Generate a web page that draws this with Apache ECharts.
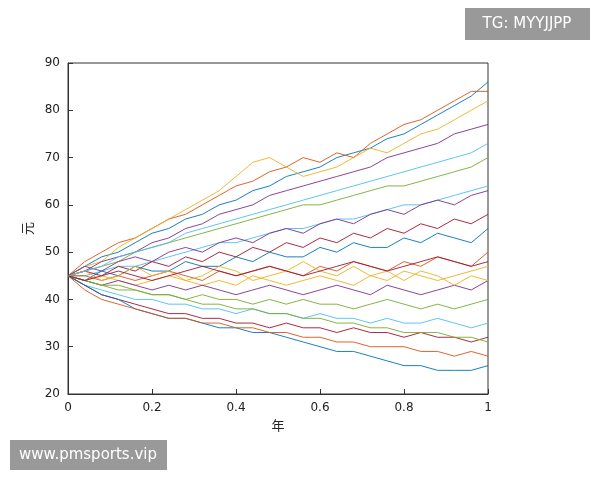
<!DOCTYPE html>
<html><head><meta charset="utf-8">
<script src="https://cdn.jsdelivr.net/npm/echarts@6/dist/echarts.min.js"></script>
<style>html,body{margin:0;background:#fff}#c{width:600px;height:480px}</style>
</head><body><div id="c"></div>
<script>
// time in years
const years = [0,0.04,0.08,0.12,0.16,0.2,0.24,0.28,0.32,0.36,0.4,0.44,0.48,0.52,0.56,0.6,0.64,0.68,0.72,0.76,0.8,0.84,0.88,0.92,0.96,1];
// price paths (元)
const paths = [
  [45,47,49,50,52,54,55,57,58,60,61,63,64,66,67,68,70,71,72,74,75,77,79,81,83,86],
  [45,48,50,52,53,55,57,58,60,62,64,65,67,68,70,69,71,70,73,75,77,78,80,82,84,84],
  [45,47,48,51,53,55,57,59,61,63,66,69,70,68,66,67,68,70,72,71,73,75,76,78,80,82],
  [45,46,48,49,50,52,53,55,56,58,59,60,62,63,64,65,66,67,68,70,71,72,73,75,76,77],
  [45,46,47,48,50,51,52,53,54,55,56,57,58,59,60,60,61,62,63,64,64,65,66,67,68,70],
  [45,45,46,47,47,48,49,50,51,52,52,53,54,55,55,56,57,57,58,59,60,60,61,62,63,64],
  [45,46,45,47,46,48,47,49,48,50,49,51,50,52,51,53,52,54,53,55,54,56,55,57,56,58],
  [45,44,46,45,47,46,46,48,47,47,49,48,50,49,49,51,50,52,51,51,53,52,54,53,52,55],
  [45,45,44,45,44,45,46,45,44,46,45,46,47,46,45,47,46,48,47,46,48,47,49,48,47,50],
  [45,44,45,44,43,44,45,44,43,44,43,45,44,43,44,45,44,43,45,44,46,45,44,45,46,47],
  [45,44,43,44,43,42,43,42,43,42,41,42,43,42,41,42,43,42,41,43,42,41,42,43,42,44],
  [45,44,43,42,42,41,41,40,41,40,40,39,40,39,40,39,39,38,39,40,39,38,39,38,39,40],
  [45,43,42,41,40,40,39,39,38,38,37,38,37,37,36,37,36,36,35,36,35,35,36,35,34,35],
  [45,43,41,40,39,38,37,37,36,36,35,35,34,35,34,34,33,34,33,33,32,33,32,32,31,32],
  [45,43,41,40,38,37,36,36,35,34,34,33,33,32,31,30,29,29,28,27,26,26,25,25,25,26],
  [45,42,40,39,38,37,36,36,35,35,34,34,33,33,32,32,31,31,30,30,30,29,29,28,29,28],
  [45,46,44,45,47,45,46,44,45,47,46,44,45,46,48,46,45,47,45,46,44,46,45,43,45,44],
  [45,47,46,48,49,48,50,51,50,52,53,52,54,55,54,56,57,56,58,59,58,60,61,60,62,63],
  [45,44,43,43,42,41,41,40,39,39,38,38,37,37,36,36,35,35,34,34,33,33,33,32,32,31],
  [45,46,47,49,50,51,52,54,55,56,57,58,59,60,61,62,63,64,65,66,67,68,69,70,71,73],
  [45,44,45,46,45,44,45,46,47,46,45,46,47,46,45,46,47,48,47,46,47,48,49,48,47,48]
];
const colors = ['#0072BD','#D95319','#EDB120','#7E2F8E','#77AC30','#4DBEEE','#A2142F'];

const chart = echarts.init(document.getElementById('c'));
const axisCommon = {
  axisLine: {show: true, lineStyle: {color: '#333'}},
  axisTick: {inside: true, lineStyle: {color: '#333'}},
  axisLabel: {color: '#222', fontSize: 12, fontFamily: 'DejaVu Sans'},
  splitLine: {show: false},
  nameTextStyle: {color: '#222', fontSize: 13, fontFamily: 'Noto Sans CJK SC'}
};
chart.setOption({
  animation: false,
  color: colors,
  grid: {left: 68, right: 112, top: 63, bottom: 86, show: true, borderColor: '#333', borderWidth: 1},
  xAxis: Object.assign({type: 'value', min: 0, max: 1, interval: 0.2, name: '年',
    nameLocation: 'middle', nameGap: 22}, axisCommon),
  yAxis: Object.assign({type: 'value', min: 20, max: 90, interval: 10, name: '元',
    nameLocation: 'middle', nameGap: 28, nameRotate: 90}, axisCommon),
  series: paths.map(p => ({
    type: 'line', showSymbol: false, lineStyle: {width: 0.9},
    data: years.map((x, i) => [x, p[i]])
  })),
  graphic: [
    {type: 'rect', shape: {x: 465, y: 8, width: 125, height: 32}, style: {fill: '#999'}},
    {type: 'text', x: 527, y: 24, style: {text: 'TG: MYYJJPP', fill: '#fff', font: '15px DejaVu Sans', align: 'center', verticalAlign: 'middle'}},
    {type: 'rect', shape: {x: 10, y: 440, width: 157, height: 30}, style: {fill: '#999'}},
    {type: 'text', x: 88, y: 455, style: {text: 'www.pmsports.vip', fill: '#fff', font: '15px DejaVu Sans', align: 'center', verticalAlign: 'middle'}}
  ]
});
</script></body></html>
